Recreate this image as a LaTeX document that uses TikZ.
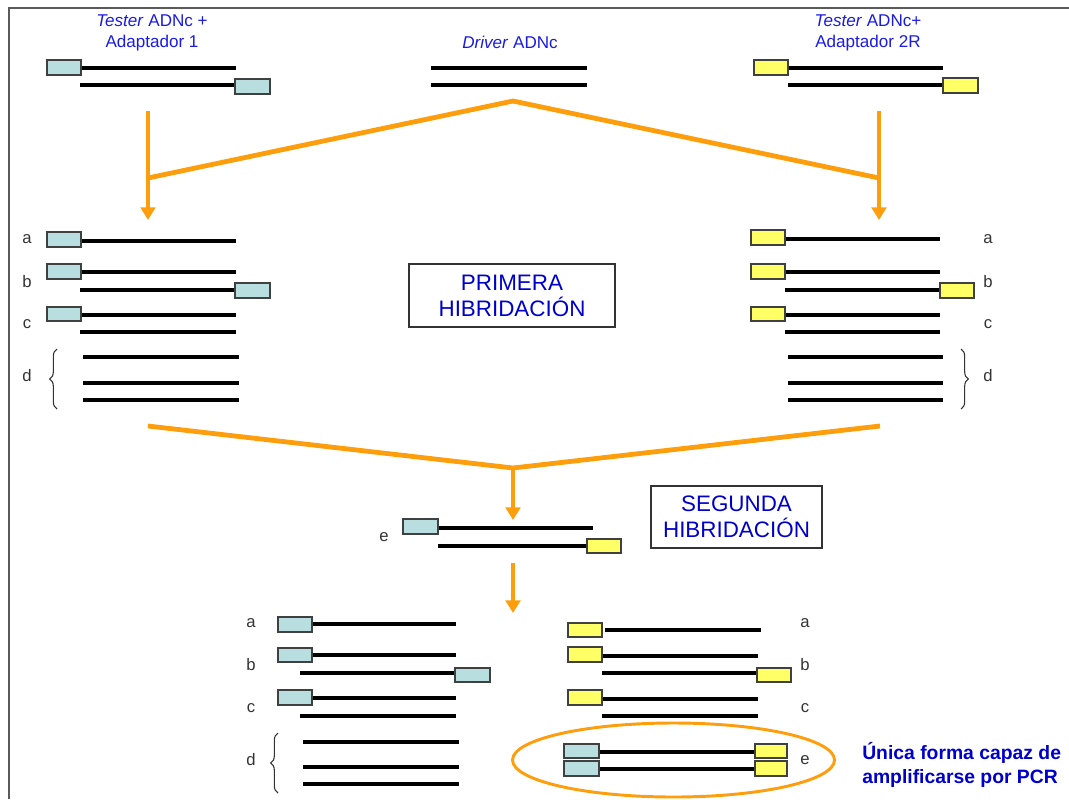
\documentclass[tikz,border=0pt]{standalone}
\usepackage{fontspec}
\setmainfont{Liberation Sans}
\usetikzlibrary{arrows.meta,decorations.pathreplacing,shapes.geometric}
\definecolor{orng}{HTML}{FF9E0C}
\definecolor{lblue}{HTML}{B8DEE0}
\definecolor{lyel}{HTML}{FFFF66}
\definecolor{txtblue}{HTML}{1A1AE6}
\definecolor{boldblue}{HTML}{0000CC}
\definecolor{frm}{HTML}{5A5A5A}
\tikzset{
  strand/.style={line width=3.4pt,black},
  bbox/.style={draw=black!75,line width=0.8pt,fill=lblue},
  ybox/.style={draw=black!75,line width=0.8pt,fill=lyel},
  oline/.style={line width=3.6pt,orng,line join=round},
  oarrow/.style={line width=3.6pt,orng,-{Triangle[width=11pt,length=9.5pt]}},
  lbl/.style={font=\fontsize{12.5pt}{14pt}\selectfont,text=black!80,inner sep=0pt},
  head/.style={font=\fontsize{12.8pt}{16pt}\selectfont,text=txtblue,inner sep=0pt,align=center},
  titlebox/.style={draw=black!80,line width=0.8pt,font=\fontsize{16.8pt}{19.5pt}\selectfont,text=boldblue,align=center,inner sep=0pt},
  brc/.style={decorate,decoration={brace,amplitude=5.5pt},line width=0.8pt,black!80}
}
\begin{document}
\begin{tikzpicture}[x=0.75pt,y=-0.75pt]
\useasboundingbox (0,0) rectangle (1069,799);
% frame
\draw[frm,line width=1.6pt] (9,799) -- (9,8) -- (1069,8);

% ---------- top row ----------
\node[head] (t1) at (152,33) {\textit{Tester} ADNc +\\Adaptador 1};
\draw[strand] (81,68) -- (236,68);
\draw[strand] (80,85) -- (236,85);
\draw[bbox] (47,60) rectangle (81,75);
\draw[bbox] (235,79) rectangle (270,94);

\node[head] (t2) at (510,42) {\textit{Driver} ADNc};
\draw[strand] (431,68) -- (587,68);
\draw[strand] (431,85) -- (587,85);

\node[head] (t3) at (868,33) {\textit{Tester} ADNc+\\Adaptador 2R};
\draw[strand] (788,68) -- (943,68);
\draw[strand] (788,85) -- (943,85);
\draw[ybox] (754,60) rectangle (788,75);
\draw[ybox] (943,78) rectangle (978,93);

% ---------- first orange connectors ----------
\coordinate (L1) at (148,111);
\coordinate (L2) at (148,220);
\coordinate (J1) at (148,178);
\coordinate (A1) at (513,101);
\coordinate (J2) at (879,178);
\coordinate (R1) at (879,111);
\coordinate (R2) at (879,220);
\draw[oarrow] (L1) -- (L2);
\draw[oarrow] (R1) -- (R2);
\draw[oline] (J1) -- (A1) -- (J2);

% ---------- middle left ----------
\node[lbl] (ma) at (27,239) {a};
\node[lbl] (mb) at (27,282) {b};
\node[lbl] (mc) at (27,324) {c};
\node[lbl] (md) at (27,376) {d};
\draw[strand] (81,241) -- (236,241);
\draw[strand] (81,272) -- (236,272);
\draw[strand] (80,290) -- (236,290);
\draw[strand] (81,315) -- (236,315);
\draw[strand] (80,332) -- (236,332);
\draw[strand] (83,357) -- (239,357);
\draw[strand] (83,383) -- (239,383);
\draw[strand] (83,400) -- (239,400);
\draw[bbox] (47,232) rectangle (81,247);
\draw[bbox] (47,264) rectangle (81,279);
\draw[bbox] (235,283) rectangle (270,298);
\draw[bbox] (47,307) rectangle (81,321);
\draw[brc] (57,409) -- (57,349);

% ---------- middle right ----------
\node[lbl] (na) at (988,239) {a};
\node[lbl] (nb) at (988,282) {b};
\node[lbl] (nc) at (988,324) {c};
\node[lbl] (nd) at (988,376) {d};
\draw[strand] (785,239) -- (940,239);
\draw[strand] (785,272) -- (940,272);
\draw[strand] (785,290) -- (940,290);
\draw[strand] (785,315) -- (940,315);
\draw[strand] (785,332) -- (940,332);
\draw[strand] (788,357) -- (943,357);
\draw[strand] (788,383) -- (943,383);
\draw[strand] (788,400) -- (943,400);
\draw[ybox] (751,230) rectangle (785,245);
\draw[ybox] (751,264) rectangle (785,279);
\draw[ybox] (940,283) rectangle (974,298);
\draw[ybox] (751,307) rectangle (785,321);
\draw[brc] (961,349) -- (961,409);

\node[titlebox,minimum width=206*0.75pt,minimum height=63*0.75pt] (prim) at (512,295.5) {PRIMERA\\HIBRIDACIÓN};

% ---------- second orange connectors ----------
\coordinate (M1) at (148,426);
\coordinate (A2) at (513,468);
\coordinate (M2) at (880,426);
\coordinate (A3) at (513,520);
\draw[oline] (M1) -- (A2) -- (M2);
\draw[oarrow] (A2) -- (A3);

% ---------- e ----------
\node[lbl] (ee) at (384,537) {e};
\draw[strand] (438,528) -- (593,528);
\draw[strand] (438,546) -- (593,546);
\draw[bbox] (403,519) rectangle (438,534);
\draw[ybox] (587,539) rectangle (621,553);
\node[titlebox,minimum width=171*0.75pt,minimum height=62*0.75pt] (seg) at (736.5,517) {SEGUNDA\\HIBRIDACIÓN};

\coordinate (B1) at (513,563);
\coordinate (B2) at (513,613);
\draw[oarrow] (B1) -- (B2);

% ---------- bottom left ----------
\node[lbl] (pa) at (251,623) {a};
\node[lbl] (pb) at (251,665) {b};
\node[lbl] (pc) at (251,708) {c};
\node[lbl] (pd) at (251,760) {d};
\draw[strand] (312,624) -- (456,624);
\draw[strand] (312,655) -- (456,655);
\draw[strand] (300,673) -- (456,673);
\draw[strand] (312,698) -- (456,698);
\draw[strand] (300,716) -- (456,716);
\draw[strand] (303,742) -- (459,742);
\draw[strand] (303,767) -- (459,767);
\draw[strand] (303,784) -- (459,784);
\draw[bbox] (278,617) rectangle (312,632);
\draw[bbox] (278,648) rectangle (312,662);
\draw[bbox] (455,668) rectangle (490,682);
\draw[bbox] (278,690) rectangle (312,705);
\draw[brc] (278,793) -- (278,733);

% ---------- bottom right ----------
\node[lbl] (qa) at (805,623) {a};
\node[lbl] (qb) at (805,665) {b};
\node[lbl] (qc) at (805,708) {c};
\node[lbl] (qe) at (805,760) {e};
\draw[strand] (605,630) -- (761,630);
\draw[strand] (602,656) -- (758,656);
\draw[strand] (602,673) -- (758,673);
\draw[strand] (602,699) -- (758,699);
\draw[strand] (602,716) -- (758,716);
\draw[strand] (599,752) -- (755,752);
\draw[strand] (599,769) -- (755,769);
\draw[ybox] (568,623) rectangle (602,637);
\draw[ybox] (568,647) rectangle (602,662);
\draw[ybox] (757,668) rectangle (791,682);
\draw[ybox] (568,690) rectangle (602,705);
\draw[bbox] (564,744) rectangle (599,758);
\draw[bbox] (564,761) rectangle (599,776);
\draw[ybox] (755,744) rectangle (787,758);
\draw[ybox] (755,761) rectangle (787,776);
\node[draw=orng,line width=2.2pt,ellipse,minimum width=322*0.75pt,minimum height=74*0.75pt,inner sep=0pt] (ell) at (673.5,760) {};

\node[anchor=west,inner sep=0pt,align=left,font=\bfseries\fontsize{14.5pt}{17.5pt}\selectfont,text=boldblue] (note) at (862,765) {Única forma capaz de\\amplificarse por PCR};
\end{tikzpicture}
\end{document}
